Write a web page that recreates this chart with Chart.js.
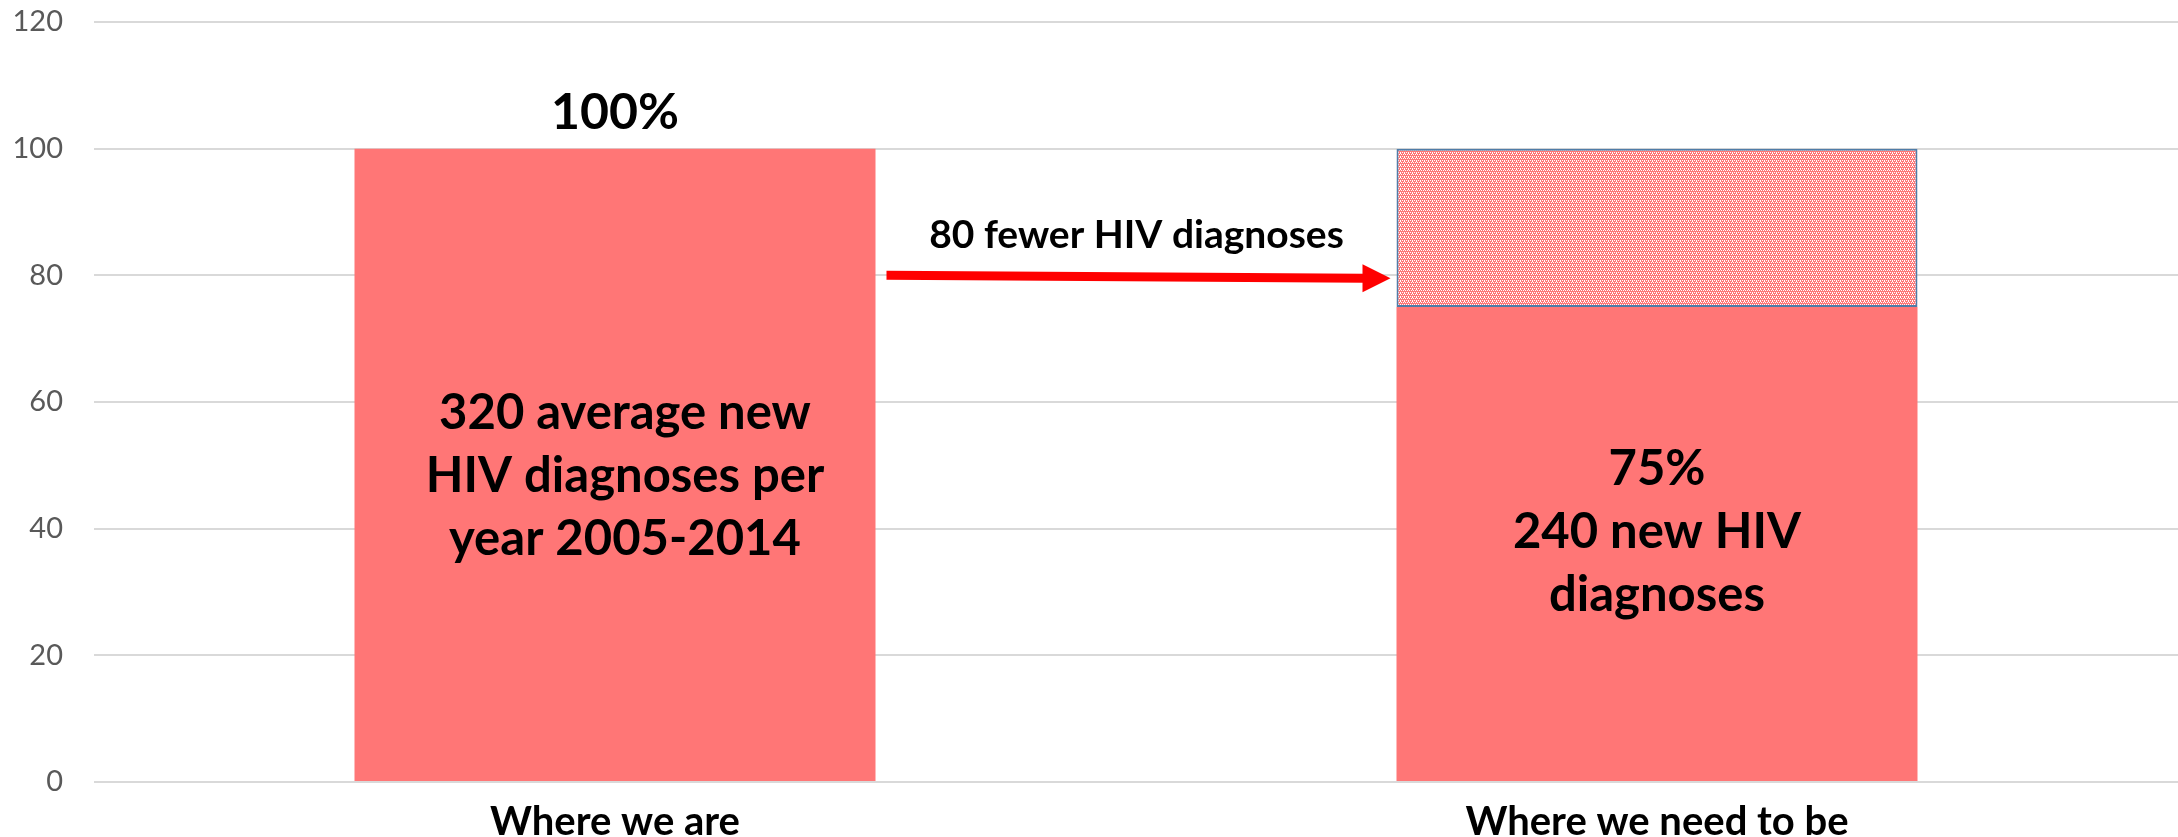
<!DOCTYPE html>
<html>
<head>
<meta charset="utf-8">
<script src="https://cdn.jsdelivr.net/npm/chart.js@4"></script>
<style>
  html, body { margin: 0; padding: 0; background: #fff; }
  #wrap { width: 2178px; height: 837px; }
</style>
</head>
<body>
<div id="wrap"><canvas id="chart" width="2178" height="837"></canvas></div>
<script>
// Data
const categories = ['Where we are', 'Where we need to be'];
const diagnosesPct = [100, 75];
const reductionPct = [0, 25];
const yTicks = [0, 20, 40, 60, 80, 100, 120];

// Annotation texts
const topLabel = '100%';
const arrowLabel = '80 fewer HIV diagnoses';
const barTexts = [
  ['320 average new', 'HIV diagnoses per', 'year 2005-2014'],
  ['75%', '240 new HIV', 'diagnoses']
];

const barColor = '#FF7676';
const fontFamily = 'Lato, "Liberation Sans", sans-serif';

// Fine dotted pattern for the "reduction" part of the second bar
function makePattern() {
  const c = document.createElement('canvas');
  c.width = 4;
  c.height = 4;
  const g = c.getContext('2d');
  g.fillStyle = barColor;
  g.fillRect(0, 0, 4, 4);
  g.fillStyle = '#ffffff';
  [[0, 0], [2, 0], [1, 2], [3, 2], [0, 1]].forEach(p => g.fillRect(p[0], p[1], 1, 1));
  return g.createPattern(c, 'repeat');
}

// Draw the texts and the arrow on top of the bars
const annotations = {
  id: 'annotations',
  afterDatasetsDraw(chart) {
    const ctx = chart.ctx;
    const xs = chart.scales.x;
    const ys = chart.scales.y;
    const bars = chart.getDatasetMeta(0).data;
    const hatch = chart.getDatasetMeta(1).data[1];

    ctx.save();
    ctx.fillStyle = '#000';
    ctx.textAlign = 'center';
    ctx.textBaseline = 'alphabetic';

    // 100% above first bar
    ctx.font = 'bold 50px ' + fontFamily;
    ctx.fillText(topLabel, xs.getPixelForValue(0), ys.getPixelForValue(diagnosesPct[0]) - 20);

    // texts inside the bars
    ctx.font = 'bold 49px ' + fontFamily;
    const midValues = [45.8, 37];
    barTexts.forEach((lines, i) => {
      const cx = xs.getPixelForValue(i) + (i === 0 ? 10 : 0);
      const mid = ys.getPixelForValue(midValues[i]);
      lines.forEach((line, j) => {
        ctx.fillText(line, cx, mid + (j - 1) * 63);
      });
    });

    // arrow from the first bar to the reduction box
    const x1 = bars[0].x + bars[0].width / 2 + 11;
    const x2 = hatch.x - hatch.width / 2 - 6;
    const y1 = ys.getPixelForValue(80);
    const y2 = y1 + 3;
    ctx.strokeStyle = '#FF0000';
    ctx.fillStyle = '#FF0000';
    ctx.lineWidth = 9;
    ctx.beginPath();
    ctx.moveTo(x1, y1);
    ctx.lineTo(x2 - 26, y2);
    ctx.stroke();
    ctx.beginPath();
    ctx.moveTo(x2, y2);
    ctx.lineTo(x2 - 28, y2 - 14);
    ctx.lineTo(x2 - 28, y2 + 14);
    ctx.closePath();
    ctx.fill();

    // arrow label
    ctx.fillStyle = '#000';
    ctx.font = 'bold 39px ' + fontFamily;
    ctx.fillText(arrowLabel, (x1 + x2) / 2 - 2, y1 - 27);
    ctx.restore();
  }
};

const chart = new Chart(document.getElementById('chart'), {
  type: 'bar',
  data: {
    labels: categories,
    datasets: [
      {
        label: 'Diagnoses',
        data: diagnosesPct,
        backgroundColor: barColor,
        borderWidth: 0,
        barPercentage: 1,
        categoryPercentage: 0.5
      },
      {
        label: 'Reduction',
        data: reductionPct,
        backgroundColor: makePattern(),
        borderColor: '#4F7CA8',
        borderWidth: 2,
        borderSkipped: false,
        barPercentage: 1,
        categoryPercentage: 0.5
      }
    ]
  },
  plugins: [annotations],
  options: {
    responsive: false,
    animation: false,
    layout: { padding: { top: 22, right: 0, bottom: 0, left: 0 } },
    plugins: {
      legend: { display: false },
      tooltip: { enabled: false }
    },
    scales: {
      x: {
        stacked: true,
        grid: { display: false },
        border: { display: false },
        afterFit(scale) {
          scale.height = 55;
        },
        ticks: {
          color: '#000',
          padding: 8,
          font: { family: fontFamily, size: 40, weight: 'bold' }
        }
      },
      y: {
        stacked: true,
        min: 0,
        max: 120,
        afterBuildTicks(scale) {
          scale.ticks = yTicks.map(v => ({ value: v }));
        },
        afterFit(scale) {
          scale.width = 94;
          scale.paddingTop = 0;
          scale.paddingBottom = 0;
        },
        grid: { color: '#D9D9D9', lineWidth: 2, drawTicks: false },
        border: { display: false },
        ticks: {
          color: '#595959',
          padding: 31,
          font: { family: fontFamily, size: 29 }
        }
      }
    }
  }
});
</script>
</body>
</html>
